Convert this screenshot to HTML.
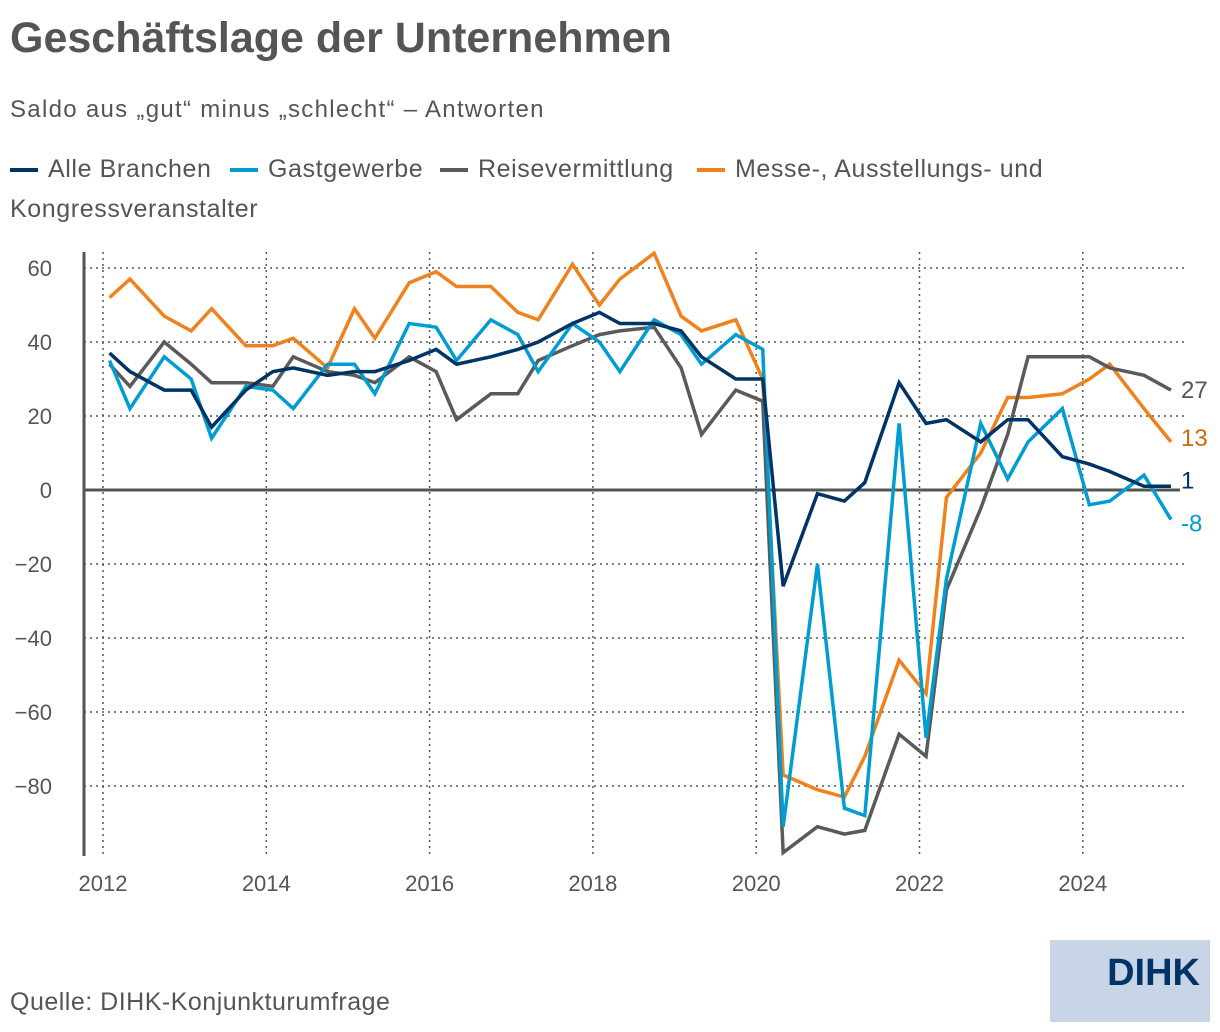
<!DOCTYPE html>
<html><head><meta charset="utf-8"><style>
body{margin:0;width:1220px;height:1032px;background:#fff;font-family:"Liberation Sans",sans-serif;color:#555;position:relative;overflow:hidden}
.t{position:absolute;white-space:nowrap}
.lg{position:absolute;top:154px;font-size:25px;white-space:nowrap;line-height:30px}
.mk{position:absolute;top:14px;width:28px;height:4px}
</style></head><body>
<div class="t" style="left:10px;top:14px;font-size:43px;font-weight:bold;color:#555">Geschäftslage der Unternehmen</div>
<div class="t" style="left:10px;top:96px;font-size:24px;letter-spacing:1.3px;color:#555">Saldo aus „gut“ minus „schlecht“ – Antworten</div>
<div>
<div class="lg" style="left:10px;padding-left:38px"><span class="mk" style="left:0;background:#003366"></span><span style="letter-spacing:0.6px">Alle Branchen</span></div>
<div class="lg" style="left:230px;padding-left:38px"><span class="mk" style="left:0;background:#009dd1"></span><span style="letter-spacing:0.6px">Gastgewerbe</span></div>
<div class="lg" style="left:440px;padding-left:38px"><span class="mk" style="left:0;background:#5a5a5a"></span><span style="letter-spacing:0.6px">Reisevermittlung</span></div>
<div class="lg" style="left:697px;padding-left:38px"><span class="mk" style="left:0;background:#f0821e"></span><span style="letter-spacing:0.6px">Messe-, Ausstellungs- und</span></div>
<div class="lg" style="left:10px;top:194px;letter-spacing:0.6px">Kongressveranstalter</div>
</div>
<svg id="chart" width="1220" height="1032" style="position:absolute;left:0;top:0"></svg>
<div class="t" style="left:10px;top:988px;font-size:25px;letter-spacing:0.5px;color:#555">Quelle: DIHK-Konjunkturumfrage</div>
<div style="position:absolute;left:1050px;top:940px;width:160px;height:82px;background:#c8d5e6"><div style="position:absolute;right:10px;top:12px;font-size:38px;font-weight:bold;color:#003366">DIHK</div></div>
<script>
const years=[2012,2014,2016,2018,2020,2022,2024];
const yTicks=[60,40,20,0,-20,-40,-60,-80];
const yTickLabels=["60","40","20","0","\u221220","\u221240","\u221260","\u221280"];
const alle=[37,32,27,27,17,27,32,33,31,32,32,35,38,34,36,38,40,45,48,45,45,43,36,30,30,-26,-1,-3,2,29,18,19,13,19,19,9,7,5,1,1];
const gast=[35,22,36,30,14,28,27,22,34,34,26,45,44,35,46,42,32,45,40,32,46,42,34,42,38,-91,-20,-86,-88,18,-67,-24,18,3,13,22,-4,-3,4,-8];
const reise=[34,28,40,34,29,29,28,36,32,31,29,36,32,19,26,26,35,39,42,43,44,33,15,27,24,-98,-91,-93,-92,-66,-72,-27,-5,15,36,36,36,33,31,27];
const messe=[52,57,47,43,49,39,39,41,33,49,41,56,59,55,55,48,46,61,50,57,64,47,43,46,30,-77,-81,-83,-72,-46,-55,-2,10,25,25,26,30,34,22,13];
const NS="http://www.w3.org/2000/svg";
const svg=document.getElementById('chart');
const xS=t=>103+(t-2012)*81.65;
const yS=v=>490-v*3.7;
const tOf=i=>2012+Math.floor(i/3)+[0.08,0.33,0.75][i%3];
function mk(tag,at){const e=document.createElementNS(NS,tag);for(const k in at)e.setAttribute(k,at[k]);svg.appendChild(e);return e;}
yTicks.forEach((v,i)=>{
 if(v!==0){const g=mk('line',{x1:84,x2:1186,y1:yS(v),y2:yS(v),stroke:'#555','stroke-width':1.5,'stroke-dasharray':'2 4'});
 
 }
 const t=mk('text',{x:52,y:yS(v)+8,'text-anchor':'end','font-size':22,fill:'#555','font-family':'Liberation Sans, sans-serif'});
 t.textContent=yTickLabels[i];
 
 
});
years.forEach(y=>{
 const g=mk('line',{x1:xS(y),x2:xS(y),y1:252,y2:855,stroke:'#555','stroke-width':1.5,'stroke-dasharray':'2 4'});
 
 
 const t=mk('text',{x:xS(y),y:891,'text-anchor':'middle','font-size':22,fill:'#555','font-family':'Liberation Sans, sans-serif'});
 t.textContent=y;
 
 
});
const ax=mk('line',{x1:84,x2:84,y1:252,y2:856,stroke:'#555','stroke-width':3});


const zl=mk('line',{x1:84,x2:1180,y1:yS(0),y2:yS(0),stroke:'#555','stroke-width':3});


const series=[[messe,'#f0821e','messe','#d0670a'],[reise,'#5a5a5a','reise','#555'],[gast,'#009dd1','gastgewerbe','#009dd1'],[alle,'#003366','alle-branchen','#003366']];
series.forEach(([d,c,n,lc])=>{
 const p=mk('polyline',{points:d.map((v,i)=>xS(tOf(i))+','+yS(v)).join(' '),fill:'none',stroke:c,'stroke-width':3.5,'stroke-linejoin':'miter'});
 
 
 const last=d[d.length-1];
 let ly=yS(last)+8;
 if(n==='gastgewerbe')ly+=4;
 if(n==='alle-branchen')ly=yS(last)+2;
 if(n==='messe')ly-=4;
 const t=mk('text',{x:1181,y:ly,'font-size':24,fill:lc,'font-family':'Liberation Sans, sans-serif'});
 t.textContent=String(last);
 
 
});
</script>
</body></html>
